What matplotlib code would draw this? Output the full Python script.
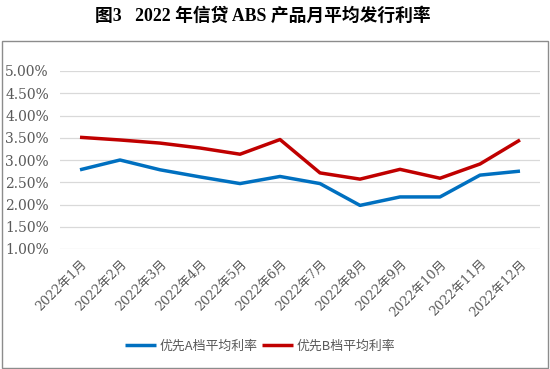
import matplotlib
matplotlib.use("Agg")
import matplotlib.pyplot as plt
from matplotlib.patches import Rectangle
from matplotlib.ticker import FuncFormatter

months = ["2022年1月", "2022年2月", "2022年3月", "2022年4月", "2022年5月", "2022年6月",
          "2022年7月", "2022年8月", "2022年9月", "2022年10月", "2022年11月", "2022年12月"]
series_a_name = "优先A档平均利率"
series_b_name = "优先B档平均利率"
series_a = [2.78, 3.00, 2.78, 2.62, 2.47, 2.63, 2.47, 1.98, 2.17, 2.17, 2.66, 2.75]
series_b = [3.51, 3.45, 3.38, 3.27, 3.13, 3.46, 2.71, 2.57, 2.79, 2.59, 2.91, 3.45]
y_ticks = [1.0, 1.5, 2.0, 2.5, 3.0, 3.5, 4.0, 4.5, 5.0]
title = "图3   2022 年信贷 ABS 产品月平均发行利率"

W, H = 550, 369
fig = plt.figure(figsize=(W / 100, H / 100), dpi=100)
fig.patch.set_facecolor("white")

# chart border
fig.add_artist(Rectangle((1.5 / W, 1 - 367.5 / H), 546.5 / W, 327 / H,
                         transform=fig.transFigure, fill=False,
                         edgecolor="#8c8c8c", linewidth=1.0))

fig.text(263 / W, 1 - 16 / H, title, ha="center", va="center", fontsize=12.8,
         fontweight="bold", family=["Liberation Serif", "Noto Sans CJK SC"], color="black")

ax = fig.add_axes([60 / W, 1 - 249 / H, 480 / W, 178 / H])
x = list(range(len(months)))
ax.plot(x, series_a, color="#0070C0", linewidth=2.5, solid_joinstyle="round",
        solid_capstyle="butt", label=series_a_name, zorder=3)
ax.plot(x, series_b, color="#C00000", linewidth=2.5, solid_joinstyle="round",
        solid_capstyle="butt", label=series_b_name, zorder=3)

ax.set_xlim(-0.5, len(months) - 0.5)
ax.set_ylim(1.0, 5.0)
ax.set_yticks(y_ticks)
ax.yaxis.set_major_formatter(FuncFormatter(lambda v, p: f"{v:.2f}%"))
ax.grid(axis="y", color="#D9D9D9", linewidth=0.9)
ax.set_axisbelow(True)
for s in ax.spines.values():
    s.set_visible(False)
ax.tick_params(axis="both", length=0)
ax.tick_params(axis="y", pad=8, labelsize=10, labelcolor="#595959")
for lbl in ax.get_yticklabels():
    lbl.set_family("DejaVu Serif")

ax.set_xticks(x)
ax.set_xticklabels(months, rotation=45, ha="right", rotation_mode="anchor",
                   fontsize=9.2, color="#595959", family=["DejaVu Serif", "Noto Sans CJK SC"])
ax.tick_params(axis="x", pad=6)

leg = fig.legend(loc="center", bbox_to_anchor=(260 / W, 1 - 346 / H), ncol=2,
                 frameon=False, handlelength=2.4, handletextpad=0.25,
                 columnspacing=0.4, prop={"family": ["Noto Sans CJK SC"], "size": 9.3})
for t in leg.get_texts():
    t.set_color("#595959")

fig.savefig("out.png", dpi=100, facecolor="white")
